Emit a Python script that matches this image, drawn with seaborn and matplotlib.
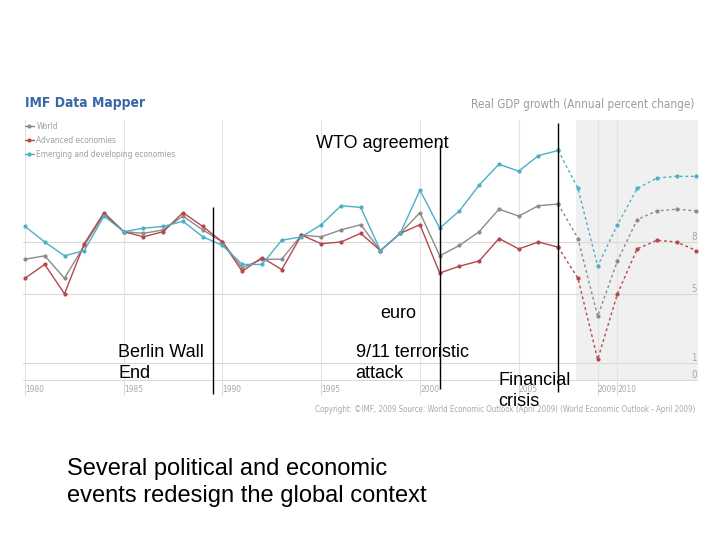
import numpy as np
import pandas as pd
import matplotlib
matplotlib.use("Agg")
import matplotlib.pyplot as plt
import seaborn as sns

# Real GDP growth (1980-2014, from 2008 on projections)
years = list(range(1980, 2015))
world = [2.0, 2.2, 0.9, 2.8, 4.6, 3.6, 3.5, 3.7, 4.5, 3.7, 3.0, 1.5, 2.0, 2.0, 3.4,
         3.3, 3.7, 4.0, 2.5, 3.5, 4.7, 2.2, 2.8, 3.6, 4.9, 4.5, 5.1, 5.2, 3.2, -1.3,
         1.9, 4.3, 4.8, 4.9, 4.8]
advanced = [0.9, 1.7, 0.0, 2.9, 4.7, 3.6, 3.3, 3.6, 4.7, 3.9, 3.0, 1.3, 2.1, 1.4, 3.4,
            2.9, 3.0, 3.5, 2.5, 3.5, 4.0, 1.2, 1.6, 1.9, 3.2, 2.6, 3.0, 2.7, 0.9, -3.8,
            0.0, 2.6, 3.1, 3.0, 2.5]
emerging = [3.9, 3.0, 2.2, 2.5, 4.5, 3.6, 3.8, 3.9, 4.2, 3.3, 2.8, 1.7, 1.7, 3.1, 3.3,
            4.0, 5.1, 5.0, 2.5, 3.5, 6.0, 3.8, 4.8, 6.3, 7.5, 7.1, 8.0, 8.3, 6.1, 1.6,
            4.0, 6.1, 6.7, 6.8, 6.8]
series_names = ["World", "Advanced economies", "Emerging and developing economies"]
series_colors = ["#8f8a8a", "#b5484d", "#4bb0c6"]
last_actual = 2007

xtick_years = [1980, 1985, 1990, 1995, 2000, 2005, 2009, 2010]
ytick_values = [3, 0, -4, -5]
ytick_labels = ["8", "5", "1", "0"]

# slide annotations: vertical marker lines
event_years = [1989.5, 2001, 2007]
event_top = [5.0, 8.6, 9.9]
event_bottom = [-5.8, -5.5, -5.7]

df = pd.DataFrame({
    "year": years * 3,
    "growth": world + advanced + emerging,
    "series": sum([[n] * len(years) for n in series_names], []),
})
hist = df[df["year"] <= last_actual]
proj = df[df["year"] >= last_actual]
palette = dict(zip(series_names, series_colors))

sns.set_style("white")
narrow = ["DejaVu Sans"]
plt.rcParams["font.family"] = ["Liberation Sans", "DejaVu Sans"]

fig = plt.figure(figsize=(7.2, 5.4), dpi=100)
ax = fig.add_axes([0.032, 0.2944, 0.938, 0.4833])

ax.axvspan(last_actual + 0.9, 2014.1, color="#f0f0f0", zorder=0, lw=0)

sns.lineplot(data=hist, x="year", y="growth", hue="series", hue_order=series_names,
             palette=palette, marker="o", markersize=3, markeredgewidth=0,
             linewidth=1, ax=ax, legend=True)
sns.lineplot(data=proj, x="year", y="growth", hue="series", hue_order=series_names,
             palette=palette, marker="o", markersize=3, markeredgewidth=0,
             linewidth=1, linestyle=(0, (2, 2)), ax=ax, legend=False)

ax.set_xlim(1979.9, 2014.1)
ax.set_ylim(-5.05, 10.06)
for s in ax.spines.values():
    s.set_visible(False)

ax.set_xticks(xtick_years, [str(y) for y in xtick_years])
ax.tick_params(axis="x", direction="out", length=10, width=0.8, color="#dddddd",
               labelsize=6, labelcolor="#a8a8a8", pad=-7, bottom=True)
for lbl in ax.get_xticklabels():
    lbl.set_ha("left")
    lbl.set_family(narrow)
    lbl.set_stretch("condensed")
ax.xaxis.grid(True, color="#e3e3e3", lw=0.8)

ax.yaxis.tick_right()
ax.set_yticks(ytick_values, ytick_labels)
ax.tick_params(axis="y", length=0, labelsize=7, labelcolor="#a8a8a8", pad=-1)
for lbl in ax.get_yticklabels():
    lbl.set_ha("right")
    lbl.set_va("bottom")
    lbl.set_family(narrow)
    lbl.set_stretch("condensed")
ax.yaxis.grid(True, color="#d9d9d9", lw=0.8)
ax.set_xlabel("")
ax.set_ylabel("")

handles, labels = ax.get_legend_handles_labels()
leg = ax.legend(handles[:3], labels[:3], loc="upper left", bbox_to_anchor=(0.0, 1.0),
                frameon=False, handlelength=1.1, handletextpad=0.3,
                labelspacing=0.6, borderaxespad=0.1, borderpad=0.1,
                labelcolor="#a0a0a0",
                prop={"family": narrow, "size": 6, "stretch": "condensed"})

ax.vlines(event_years, event_bottom, event_top, color="black", lw=1.0,
          clip_on=False, zorder=6)

# header and footer of the embedded IMF picture
fig.text(0.035, 0.809, "IMF Data Mapper", fontsize=10, fontweight="bold",
         color="#3a68a6", family=narrow, stretch="condensed", va="center")
fig.text(0.965, 0.807, "Real GDP growth (Annual percent change)", fontsize=8.4,
         color="#9c9c9c", family=narrow, stretch="condensed", ha="right", va="center")
fig.text(0.965, 0.241, "Copyright: \u00a9IMF, 2009 Source: World Economic Outlook (April 2009) "
         "(World Economic Outlook - April 2009)", fontsize=5.7, color="#a8a8a8",
         family=narrow, stretch="condensed", ha="right", va="center")

# slide annotations
fig.text(0.439, 0.735, "WTO agreement", fontsize=13, color="black", va="center")
fig.text(0.528, 0.420, "euro", fontsize=13, color="black", va="center")
fig.text(0.164, 0.328, "Berlin Wall\nEnd", fontsize=13, color="black", va="center",
         linespacing=1.25)
fig.text(0.494, 0.328, "9/11 terroristic\nattack", fontsize=13, color="black",
         va="center", linespacing=1.25)
fig.text(0.692, 0.276, "Financial\ncrisis", fontsize=13, color="black", va="center",
         linespacing=1.25)
fig.text(0.093, 0.106, "Several political and economic\nevents redesign the global context",
         fontsize=17, color="black", va="center", linespacing=1.27)

fig.savefig("out.png", dpi=100)
